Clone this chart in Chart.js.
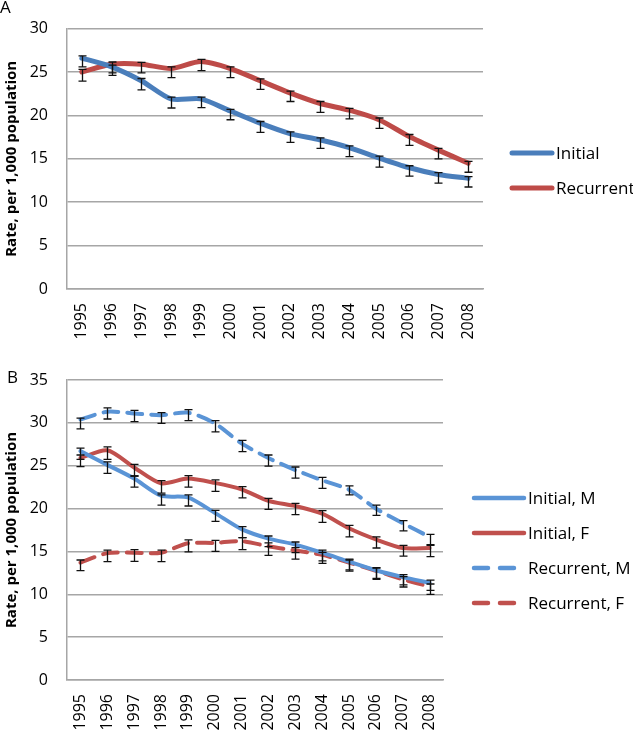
<!DOCTYPE html>
<html>
<head>
<meta charset="utf-8">
<script src="https://cdn.jsdelivr.net/npm/chart.js@4.4.1/dist/chart.umd.min.js"></script>
<style>
  html, body { margin: 0; padding: 0; background: #fff; }
  canvas { display: block; }
</style>
</head>
<body>
<canvas id="grafico-a" width="633" height="350"></canvas>
<canvas id="grafico-b" width="633" height="382"></canvas>
<script>
const anos = ['1995', '1996', '1997', '1998', '1999', '2000', '2001', '2002', '2003', '2004', '2005', '2006', '2007', '2008'];

// painel A
const inicial = [26.6, 25.6, 24.0, 21.9, 21.9, 20.5, 19.1, 17.9, 17.2, 16.3, 15.1, 14.0, 13.2, 12.75];
const recorrente = [25.0, 25.9, 25.9, 25.4, 26.2, 25.4, 24.0, 22.6, 21.4, 20.6, 19.5, 17.6, 16.0, 14.5];
const inicialSobe = [0.25, 0.2, 0.25, 0.2, 0.2, 0.2, 0.2, 0.2, 0.2, 0.2, 0.2, 0.2, 0.2, 0.2];
const inicialDesce = [1.0, 1.0, 1.05, 1.05, 1.0, 1.0, 1.05, 1.0, 1.0, 1.05, 1.05, 1.0, 1.0, 1.0];
const recorrenteSobe = [0.3, 0.25, 0.2, 0.2, 0.25, 0.2, 0.2, 0.2, 0.2, 0.2, 0.2, 0.2, 0.2, 0.2];
const recorrenteDesce = [1.05, 1.0, 1.0, 1.05, 1.05, 1.05, 1.0, 1.0, 1.05, 1.0, 1.0, 1.05, 1.0, 1.05];

// painel B
const inicialM = [26.7, 25.1, 23.5, 21.5, 21.3, 19.5, 17.6, 16.5, 15.8, 14.85, 13.8, 12.8, 12.0, 11.35];
const inicialF = [25.9, 26.8, 24.8, 22.95, 23.5, 23.0, 22.25, 20.9, 20.3, 19.4, 17.7, 16.4, 15.4, 15.4];
const recorrenteM = [30.4, 31.3, 31.1, 30.9, 31.2, 29.95, 27.6, 25.9, 24.5, 23.3, 22.2, 20.0, 18.3, 16.7];
const recorrenteF = [13.7, 14.8, 14.85, 14.85, 15.95, 16.0, 16.2, 15.6, 15.1, 14.6, 13.7, 12.75, 11.75, 10.9];
const inicialMSobe = [0.35, 0.35, 0.3, 0.1, 0.3, 0.3, 0.3, 0.3, 0.3, 0.3, 0.3, 0.3, 0.3, 0.3];
const inicialMDesce = [0.95, 1.0, 1.0, 1.1, 1.0, 1.0, 1.0, 0.95, 0.95, 0.95, 0.95, 0.95, 0.9, 0.9];
const inicialFSobe = [0.35, 0.4, 0.35, 0.3, 0.35, 0.35, 0.3, 0.3, 0.3, 0.35, 0.35, 0.3, 0.3, 0.4];
const inicialFDesce = [1.0, 1.05, 1.0, 1.15, 1.0, 1.0, 1.0, 1.0, 1.0, 1.0, 1.0, 1.0, 0.95, 1.0];
const recorrenteMSobe = [0.15, 0.45, 0.35, 0.3, 0.35, 0.3, 0.35, 0.35, 0.35, 0.35, 0.45, 0.4, 0.3, 0.3];
const recorrenteMDesce = [1.1, 0.85, 0.95, 0.95, 0.95, 1.0, 0.95, 0.95, 0.95, 0.95, 0.6, 0.8, 0.9, 1.0];
const recorrenteFSobe = [0.3, 0.35, 0.35, 0.3, 0.4, 0.3, 0.4, 0.4, 0.35, 0.3, 0.3, 0.3, 0.3, 0.3];
const recorrenteFDesce = [0.95, 1.0, 1.0, 1.05, 1.0, 1.0, 1.0, 1.05, 1.0, 1.0, 1.0, 1.0, 0.9, 0.9];

const AZUL_A = '#4A7EBB';
const VERMELHO_A = '#BE4B48';
const AZUL_B = '#5A94D6';
const VERMELHO_B = '#C0504D';
const CINZA = '#A6A6A6';

Chart.defaults.font.family = "'Open Sans', sans-serif";
Chart.defaults.color = '#000';

// barras de erro em preto por cima das linhas
const barrasErro = {
  id: 'barrasErro',
  afterDatasetsDraw(chart) {
    const { ctx } = chart;
    const x = chart.scales.x;
    const y = chart.scales.y;
    ctx.save();
    ctx.strokeStyle = '#111';
    ctx.lineWidth = 1.3;
    chart.data.datasets.forEach(ds => {
      ds.data.forEach((v, j) => {
        const px = Math.round(x.getPixelForValue(j)) + 0.5;
        const topo = y.getPixelForValue(v + ds.errSobe[j]);
        const base = y.getPixelForValue(v - ds.errDesce[j]);
        ctx.beginPath();
        ctx.moveTo(px, topo); ctx.lineTo(px, base);
        ctx.moveTo(px - 4, topo); ctx.lineTo(px + 4, topo);
        ctx.moveTo(px - 4, base); ctx.lineTo(px + 4, base);
        ctx.stroke();
      });
    });
    ctx.restore();
  }
};

// legenda com amostra de linha + letra do painel
const legendaLinhas = {
  id: 'legendaLinhas',
  afterDraw(chart, args, op) {
    const { ctx } = chart;
    ctx.save();
    ctx.font = "17px 'Open Sans', sans-serif";
    ctx.fillStyle = '#000';
    ctx.textBaseline = 'middle';
    chart.data.datasets.forEach((ds, i) => {
      const yy = op.y0 + i * op.dy;
      ctx.beginPath();
      ctx.strokeStyle = ds.borderColor;
      ctx.lineWidth = op.espessura;
      ctx.lineCap = 'round';
      ctx.setLineDash(ds.borderDash ? op.traco : []);
      ctx.moveTo(op.x0, yy);
      ctx.lineTo(op.x0 + op.w, yy);
      ctx.stroke();
      ctx.fillText(ds.label, op.x0 + op.w + 4, yy + 1);
    });
    ctx.font = "17px 'Open Sans', sans-serif";
    ctx.textBaseline = 'top';
    ctx.fillText(op.letra, op.letraX, op.letraY);
    ctx.restore();
  }
};

function criarGrafico(id, datasets, maxY, padTopo, padDireita, alturaX, espessura, legenda) {
  const ctx = document.getElementById(id).getContext('2d');
  return new Chart(ctx, {
    type: 'line',
    data: { labels: anos, datasets: datasets },
    options: {
      responsive: false,
      animation: false,
      layout: { padding: { top: padTopo, right: padDireita, left: 0, bottom: 0 } },
      elements: {
        point: { radius: 0 },
        line: { tension: 0.25, borderWidth: espessura, borderCapStyle: 'round', borderJoinStyle: 'round' }
      },
      plugins: {
        legend: { display: false },
        tooltip: { enabled: false },
        legendaLinhas: legenda
      },
      scales: {
        x: {
          offset: true,
          grid: { display: false, drawTicks: false },
          border: { display: true, color: CINZA, width: 1.5 },
          ticks: { padding: 14, minRotation: 90, maxRotation: 90, font: { size: 16 } },
          afterFit: scale => { scale.height = alturaX; }
        },
        y: {
          min: 0,
          max: maxY,
          ticks: { stepSize: 5, padding: 19, font: { size: 16 } },
          grid: { color: CINZA, lineWidth: 1.5, drawTicks: false },
          border: { display: true, color: CINZA, width: 1.5 },
          title: {
            display: true,
            text: 'Rate, per 1,000 population',
            font: { size: 15, weight: 'bold' },
            padding: { top: 3, bottom: 0 }
          },
          afterFit: scale => { scale.width = 67; }
        }
      }
    },
    plugins: [barrasErro, legendaLinhas]
  });
}

const graficoA = criarGrafico('grafico-a', [
  { label: 'Initial', data: inicial, borderColor: AZUL_A, errSobe: inicialSobe, errDesce: inicialDesce },
  { label: 'Recurrent', data: recorrente, borderColor: VERMELHO_A, errSobe: recorrenteSobe, errDesce: recorrenteDesce }
], 30, 9, 150, 61, 5,
  { x0: 512, y0: 153, dy: 35, w: 40, espessura: 5, traco: [], letra: 'A', letraX: 0, letraY: 0 });

const graficoB = criarGrafico('grafico-b', [
  { label: 'Initial, M', data: inicialM, borderColor: AZUL_B, errSobe: inicialMSobe, errDesce: inicialMDesce },
  { label: 'Initial, F', data: inicialF, borderColor: VERMELHO_B, errSobe: inicialFSobe, errDesce: inicialFDesce },
  { label: 'Recurrent, M', data: recorrenteM, borderColor: AZUL_B, borderDash: [15, 9], errSobe: recorrenteMSobe, errDesce: recorrenteMDesce },
  { label: 'Recurrent, F', data: recorrenteF, borderColor: VERMELHO_B, borderDash: [15, 9], errSobe: recorrenteFSobe, errDesce: recorrenteFDesce }
], 35, 30, 190, 52, 4,
  { x0: 474, y0: 148, dy: 35, w: 50, espessura: 4.5, traco: [14, 12], letra: 'B', letraX: 7, letraY: 20 });
</script>
</body>
</html>
